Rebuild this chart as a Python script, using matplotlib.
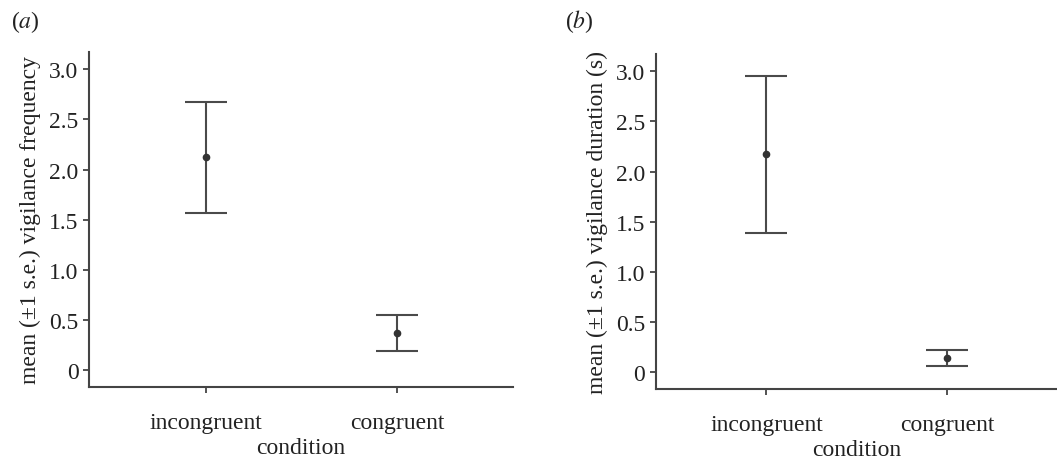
import matplotlib
matplotlib.use("Agg")
import matplotlib.pyplot as plt

# data
conditions = ["incongruent", "congruent"]
freq_mean = [2.125, 0.374]
freq_upper = [2.67, 0.556]
freq_lower = [1.57, 0.19]
dur_mean = [2.17, 0.143]
dur_upper = [2.954, 0.222]
dur_lower = [1.389, 0.066]
yticks = [0, 0.5, 1.0, 1.5, 2.0, 2.5, 3.0]
ytick_labels = ["0", "0.5", "1.0", "1.5", "2.0", "2.5", "3.0"]

plt.rcParams["font.family"] = ["Liberation Serif", "DejaVu Serif"]
plt.rcParams["mathtext.fontset"] = "stix"
axis_col = "#444444"
bar_col = "#4a4a4a"
txt_col = "#222222"
fs = 17

fig = plt.figure(figsize=(10.57, 4.64), dpi=100)
ax1 = fig.add_axes([0.0842, 0.1638, 0.4011, 0.7220])
ax2 = fig.add_axes([0.6203, 0.1595, 0.3797, 0.7220])


def draw(ax, mean, upper, lower, ylabel):
    x = [1, 2]
    err = [[m - l for m, l in zip(mean, lower)], [u - m for m, u in zip(mean, upper)]]
    ax.errorbar(x, mean, yerr=err, fmt="o", color=bar_col, ecolor=bar_col,
                markersize=4.5, markerfacecolor="#333333", markeredgecolor="#333333",
                elinewidth=1.5, capsize=15, capthick=1.5)
    ax.set_xlim(0.387, 2.607)
    ax.set_ylim(-0.165, 3.17)
    ax.set_xticks(x)
    ax.set_xticklabels(conditions)
    ax.set_yticks(yticks)
    ax.set_yticklabels(ytick_labels)
    for s in ["top", "right"]:
        ax.spines[s].set_visible(False)
    for s in ["left", "bottom"]:
        ax.spines[s].set_color(axis_col)
        ax.spines[s].set_linewidth(1.5)
    ax.tick_params(axis="both", colors=axis_col, labelcolor=txt_col,
                   labelsize=fs, length=4, width=1.3, direction="out")
    ax.tick_params(axis="x", pad=14)
    ax.set_xlabel("condition", fontsize=fs, color=txt_col, labelpad=3)
    ax.set_ylabel(ylabel, fontsize=fs, color=txt_col, labelpad=6)


draw(ax1, freq_mean, freq_upper, freq_lower, "mean (\u00b11 s.e.) vigilance frequency")
draw(ax2, dur_mean, dur_upper, dur_lower, "mean (\u00b11 s.e.) vigilance duration (s)")

fig.text(0.010, 0.953, r"($\mathit{a}$)", fontsize=fs, color=txt_col, va="center")
fig.text(0.535, 0.953, r"($\mathit{b}$)", fontsize=fs, color=txt_col, va="center")

fig.savefig("out.png", dpi=100)
